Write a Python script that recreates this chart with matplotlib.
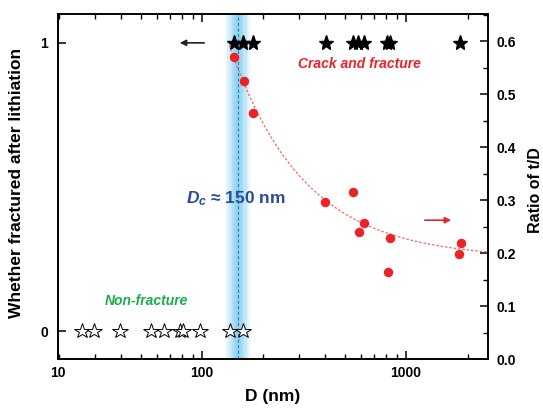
import numpy as np
import matplotlib
matplotlib.use('Agg')
import matplotlib.pyplot as plt
from matplotlib.ticker import FixedLocator, LogLocator, MultipleLocator, NullFormatter

plt.rcParams['font.family'] = ['Liberation Sans', 'DejaVu Sans']
plt.rcParams['font.weight'] = 'bold'
plt.rcParams['mathtext.fontset'] = 'custom'
plt.rcParams['mathtext.it'] = 'Liberation Sans:italic:bold'
plt.rcParams['mathtext.rm'] = 'Liberation Sans:bold'

# fractured particles (left axis, value 1)
d_fractured = [143, 159, 178, 405, 550, 582, 622, 807, 835, 1840]
# intact particles (left axis, value 0)
d_intact = [25.8, 29.6, 39.6, 56.2, 65.2, 78.0, 80.7, 97.8, 137, 159]
# thickness ratio t/D (right axis)
d_ratio = [143.5, 160.7, 177.8, 400, 550, 588, 622, 815, 835, 1815, 1865]
ratio = [0.570, 0.525, 0.464, 0.296, 0.315, 0.240, 0.257, 0.164, 0.228, 0.198, 0.219]

# dashed guide curve: y = y0 + a * (D / 140)^-p
fit_y0, fit_a, fit_p = 0.19, 0.389, 1.2
d_crit = 150

XMIN, XMAX = 19.7, 2520

fig = plt.figure(figsize=(5.43, 4.08), dpi=100)
ax = fig.add_axes([0.1068, 0.120, 0.7919, 0.8456])
ax2 = ax.twinx()

ax.set_xscale('log')
ax.set_xlim(XMIN, XMAX)
ax.set_ylim(-0.097, 1.10)
ax2.set_ylim(0, 0.651)

# blue glow band at the critical size
lc = np.log10(d_crit)
for off in np.linspace(-0.06, 0.06, 41):
    w = 0.0031
    a = np.exp(-(off / 0.04) ** 2) * 0.32
    ax.axvspan(10 ** (lc + off - w), 10 ** (lc + off + w), color='#34afe8', alpha=a, lw=0, zorder=1)
ax.axvline(d_crit, color='#2a7fc4', lw=0.8, ls=(0, (3, 2)), zorder=2)

# stars
ax.plot(d_fractured, [1] * len(d_fractured), ls='none', marker='*', ms=11,
        mfc='black', mec='black', zorder=5)
ax.plot(d_intact, [0] * len(d_intact), ls='none', marker='*', ms=11.5,
        mfc='white', mec='black', mew=0.7, zorder=5)

# ratio points and guide curve
dd = np.logspace(np.log10(136), np.log10(XMAX), 200)
ax2.plot(dd, fit_y0 + fit_a * (dd / 140) ** (-fit_p), color='#f26a5a', lw=0.9,
         ls=(0, (2, 1.5)), zorder=3)
ax2.plot(d_ratio, ratio, ls='none', marker='o', ms=5.8, color='#ec2228', zorder=6)

# arrows
ax.annotate('', xy=(75.4, 1), xytext=(105.8, 1),
            arrowprops=dict(arrowstyle='-|>', color='#222222', lw=1.2, mutation_scale=9))
ax2.annotate('', xy=(1716, 0.262), xytext=(1197, 0.262),
             arrowprops=dict(arrowstyle='-|>', color='#ec2228', lw=1.2, mutation_scale=9))

# texts
ax.text(0.702, 0.855, 'Crack and fracture', transform=ax.transAxes, color='#ec2228',
        fontsize=10, fontstyle='italic', fontweight='bold', ha='center', va='center')
ax.text(0.205, 0.168, 'Non-fracture', transform=ax.transAxes, color='#1aae4a',
        fontsize=10, fontstyle='italic', fontweight='bold', ha='center', va='center')
ax.text(0.414, 0.464, '$D_c$ \u2248 150 nm', transform=ax.transAxes, color='#2c4a9a',
        fontsize=12.5, fontweight='bold', ha='center', va='center', zorder=7)

# ticks
ax.xaxis.set_major_locator(FixedLocator([XMIN, 100, 1000]))
ax.set_xticklabels(['10', '100', '1000'])
ax.xaxis.set_minor_locator(LogLocator(base=10, subs=np.arange(2, 10)))
ax.xaxis.set_minor_formatter(NullFormatter())
ax.set_yticks([0, 1])
ax2.yaxis.set_major_locator(MultipleLocator(0.1))
ax2.yaxis.set_minor_locator(MultipleLocator(0.05))
ax2.yaxis.set_major_formatter(plt.FuncFormatter(lambda v, p: '%.1f' % v))

ax.tick_params(axis='x', which='both', direction='in', top=True, labelsize=10, pad=5)
ax.tick_params(axis='x', which='major', length=6, width=1.1)
ax.tick_params(axis='x', which='minor', length=3.5, width=1.0)
ax.tick_params(axis='y', which='major', direction='in', length=6, width=1.1, labelsize=10, pad=7)
ax2.tick_params(axis='y', which='major', direction='in', length=6, width=1.1, labelsize=10, pad=6)
ax2.tick_params(axis='y', which='minor', direction='in', length=3.5, width=1.0)

for sp in ax.spines.values():
    sp.set_linewidth(1.2)
for sp in ax2.spines.values():
    sp.set_linewidth(1.2)

ax.set_xlabel('D (nm)', fontsize=12.5, fontweight='bold')
ax.xaxis.set_label_coords(0.5, -0.088)
ax.set_ylabel('Whether fractured after lithiation', fontsize=12.5, fontweight='bold')
ax.yaxis.set_label_coords(-0.078, 0.51)
ax2.set_ylabel('Ratio of t/D', fontsize=11.5, fontweight='bold', rotation=90)
ax2.yaxis.set_label_coords(1.093, 0.49)

fig.savefig('out.png', dpi=100)
